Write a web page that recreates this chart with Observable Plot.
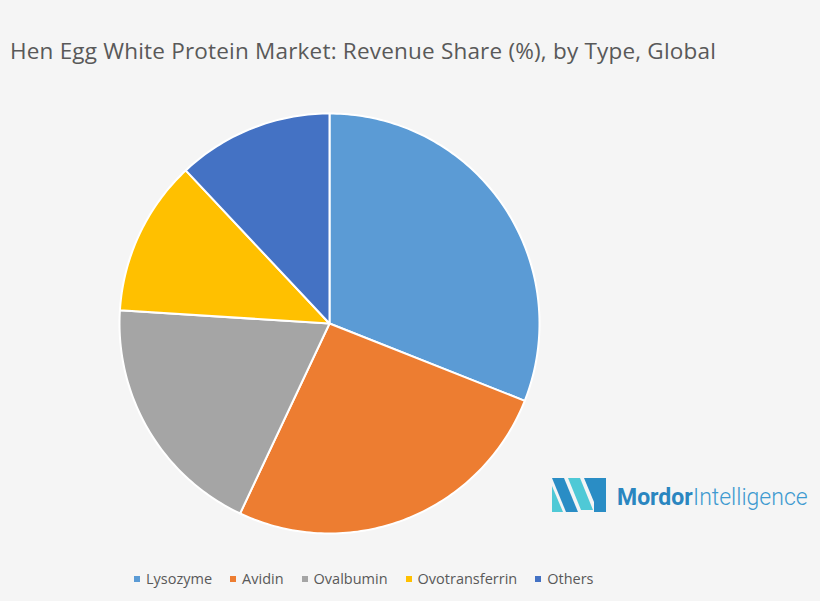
<!DOCTYPE html>
<html>
<head>
<meta charset="utf-8">
<script src="https://cdn.jsdelivr.net/npm/d3@7"></script>
<script src="https://cdn.jsdelivr.net/npm/@observablehq/plot@0.6"></script>
<style>
  html, body { margin: 0; padding: 0; background: #f5f5f5; }
  #page { position: relative; width: 820px; height: 601px; background: #f5f5f5; overflow: hidden; font-family: "Open Sans", sans-serif; }
  #title { position: absolute; left: 10px; top: 35px; font-size: 22.5px; letter-spacing: 0.2px; color: #595959; white-space: nowrap; }
  #chart { position: absolute; left: 0; top: 103px; }
  #legend { position: absolute; left: 134px; top: 569px; display: flex; font-size: 14.5px; color: #595959; white-space: nowrap; }
  .item { display: flex; align-items: center; margin-right: 18px; }
  .sw { width: 6px; height: 6px; margin-right: 6px; }
  #logo { position: absolute; left: 548px; top: 472px; }
</style>
</head>
<body>
<div id="page">
  <div id="title">Hen Egg White Protein Market: Revenue Share (%), by Type, Global</div>
  <div id="chart"></div>
  <div id="legend"></div>
  <svg id="logo" width="270" height="48" viewBox="0 0 270 48">
    <polygon points="4,6 16,6 30,40 18,40" fill="#2a8dc5"/>
    <polygon points="4,14 4,40 15,40" fill="#4fc9d6"/>
    <polygon points="20,6 32,6 45,38 33,38" fill="#4fc9d6"/>
    <polygon points="46,6 58,6 58,40 46,40 46,34" fill="#2a8dc5"/>
    <polygon points="36,6 46,6 46,30" fill="#2a8dc5"/>
    <text x="69" y="33" font-family="Roboto, 'Open Sans', sans-serif" font-size="23" font-weight="700" fill="#2a86c0">Mordor</text>
    <text x="145" y="33" font-family="Roboto, 'Open Sans', sans-serif" font-size="23" font-weight="300" fill="#3e9ad0">Intelligence</text>
  </svg>
</div>
<script>
const types = ["Lysozyme", "Avidin", "Ovalbumin", "Ovotransferrin", "Others"];
const shares = [31, 26, 19, 12, 12];
const colors = ["#5B9BD5", "#ED7D31", "#A5A5A5", "#FFC000", "#4472C4"];

// Build slice outlines (unit circle) from the shares
const total = d3.sum(shares);
const pts = [];
let acc = 0;
types.forEach((t, i) => {
  const a0 = acc / total * 2 * Math.PI;
  acc += shares[i];
  const a1 = acc / total * 2 * Math.PI;
  pts.push({type: t, x: 0, y: 0});
  const n = Math.max(2, Math.ceil((a1 - a0) / (Math.PI / 180)));
  for (let k = 0; k <= n; k++) {
    const a = a0 + (a1 - a0) * k / n;
    pts.push({type: t, x: Math.sin(a), y: Math.cos(a)});
  }
});

const chart = Plot.plot({
  width: 820,
  height: 440,
  margin: 0,
  style: {background: "transparent"},
  x: {domain: [-1, 1], range: [119, 539], axis: null},
  y: {domain: [-1, 1], range: [430, 10], axis: null},
  color: {domain: types, range: colors},
  marks: [
    Plot.line(pts, {x: "x", y: "y", z: "type", fill: "type", stroke: "white", strokeWidth: 2, strokeLinejoin: "round", curve: "linear-closed"})
  ]
});
document.getElementById("chart").appendChild(chart);

const legend = document.getElementById("legend");
types.forEach((t, i) => {
  const it = document.createElement("div");
  it.className = "item";
  const sw = document.createElement("div");
  sw.className = "sw";
  sw.style.background = colors[i];
  const tx = document.createElement("span");
  tx.textContent = t;
  it.appendChild(sw);
  it.appendChild(tx);
  legend.appendChild(it);
});
</script>
</body>
</html>
